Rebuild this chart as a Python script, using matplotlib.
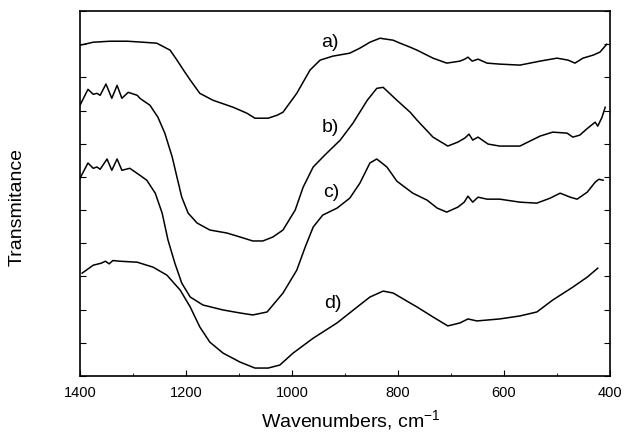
import matplotlib.pyplot as plt
from matplotlib.ticker import MultipleLocator

plt.rcParams['font.family'] = ['Liberation Sans', 'DejaVu Sans']
plt.rcParams['mathtext.default'] = 'regular'

# IR spectra, wavenumber (cm-1) and transmittance (arbitrary units, offset)
wn_a = [1400, 1375, 1343, 1311, 1281, 1255, 1230, 1217, 1206, 1192, 1174, 1149, 1111, 1085,
        1070, 1045, 1028, 1017, 991, 966, 947, 923, 891, 872, 853, 834, 809, 796, 777, 764,
        734, 708, 683, 674, 668, 660, 649, 632, 608, 570, 532, 500, 479, 466, 451, 432, 419, 406]
tr_a = [9.97, 10.06, 10.09, 10.09, 10.06, 10.03, 9.82, 9.52, 9.25, 8.92, 8.52, 8.31, 8.10, 7.92,
        7.77, 7.77, 7.86, 7.95, 8.52, 9.22, 9.52, 9.64, 9.73, 9.88, 10.06, 10.18, 10.12, 10.03, 9.91, 9.82,
        9.58, 9.43, 9.49, 9.55, 9.61, 9.49, 9.55, 9.43, 9.40, 9.37, 9.49, 9.58, 9.52, 9.43, 9.58, 9.67, 9.76, 10.0]

wn_b = [1400, 1385, 1375, 1368, 1362, 1351, 1340, 1330, 1321, 1309, 1292, 1287, 1268, 1253,
        1240, 1226, 1217, 1208, 1196, 1179, 1155, 1123, 1098, 1074, 1055, 1036, 1017, 994, 979,
        960, 938, 909, 885, 858, 840, 828, 802, 777, 764, 734, 706, 687, 674, 666, 659, 649,
        630, 608, 570, 532, 508, 481, 470, 457, 442, 428, 423, 415, 409]
tr_b = [8.16, 8.64, 8.49, 8.52, 8.46, 8.80, 8.37, 8.76, 8.37, 8.55, 8.46, 8.37, 8.16, 7.80,
        7.32, 6.60, 5.99, 5.39, 4.91, 4.61, 4.40, 4.31, 4.19, 4.07, 4.07, 4.19, 4.40, 5.00, 5.69,
        6.30, 6.66, 7.11, 7.62, 8.31, 8.67, 8.70, 8.31, 7.95, 7.71, 7.20, 6.93, 7.05, 7.17, 7.29, 7.11, 7.20,
        6.99, 6.93, 6.93, 7.23, 7.35, 7.32, 7.20, 7.26, 7.47, 7.65, 7.53, 7.80, 8.10]

wn_c = [1400, 1385, 1375, 1368, 1362, 1349, 1340, 1330, 1321, 1306, 1287, 1274, 1258, 1245,
        1234, 1221, 1208, 1192, 1168, 1130, 1098, 1074, 1047, 1017, 991, 975, 960, 942, 915,
        891, 872, 853, 840, 821, 802, 772, 745, 726, 708, 687, 675, 668, 659, 649, 632, 608,
        570, 538, 513, 494, 475, 462, 443, 428, 421, 413]
tr_c = [5.96, 6.42, 6.26, 6.30, 6.23, 6.54, 6.20, 6.54, 6.20, 6.26, 6.05, 5.90, 5.51, 4.91,
        4.10, 3.40, 2.80, 2.38, 2.14, 1.99, 1.90, 1.84, 1.93, 2.50, 3.19, 3.89, 4.49, 4.85, 5.06,
        5.36, 5.81, 6.42, 6.54, 6.30, 5.87, 5.51, 5.30, 5.06, 4.94, 5.09, 5.24, 5.42, 5.24, 5.39, 5.33, 5.33,
        5.24, 5.21, 5.36, 5.51, 5.39, 5.33, 5.54, 5.84, 5.93, 5.90]

wn_d = [1396, 1375, 1360, 1352, 1345, 1338, 1325, 1292, 1262, 1236, 1211, 1192, 1174, 1155,
        1130, 1098, 1070, 1045, 1023, 998, 960, 915, 877, 853, 828, 809, 777, 764, 734, 706,
        683, 668, 651, 608, 570, 538, 508, 470, 443, 423]
tr_d = [3.10, 3.34, 3.40, 3.46, 3.38, 3.48, 3.46, 3.43, 3.28, 3.04, 2.59, 2.08, 1.48, 1.02,
        0.69, 0.42, 0.24, 0.24, 0.33, 0.69, 1.14, 1.60, 2.08, 2.38, 2.56, 2.50, 2.20, 2.08, 1.78, 1.51,
        1.60, 1.72, 1.66, 1.72, 1.81, 1.93, 2.29, 2.68, 2.98, 3.25]

labels = ['a)', 'b)', 'c)', 'd)']
label_wn = [928, 928, 925, 923]
label_tr = [10.06, 7.50, 5.54, 2.20]

fig = plt.figure(figsize=(6.26, 4.34), dpi=100)
ax = fig.add_axes([0.1278, 0.1336, 0.8466, 0.841])

for wn, tr in [(wn_a, tr_a), (wn_b, tr_b), (wn_c, tr_c), (wn_d, tr_d)]:
    ax.plot(wn, tr, color='black', lw=1.1, solid_joinstyle='round')

for lab, x, y in zip(labels, label_wn, label_tr):
    ax.text(x, y, lab, fontsize=14, ha='center', va='center')

ax.set_xlim(1400, 400)
ax.set_ylim(0, 11)
ax.xaxis.set_major_locator(MultipleLocator(200))
ax.xaxis.set_minor_locator(MultipleLocator(100))
ax.yaxis.set_major_locator(MultipleLocator(1))
ax.set_yticklabels([])
ax.tick_params(direction='in', which='both', right=True, labelsize=10.5, pad=7)
ax.tick_params(which='major', length=4)
ax.tick_params(which='minor', length=2.5)
for s in ax.spines.values():
    s.set_linewidth(1.2)

fig.text(351 / 626, 0.016, 'Wavenumbers, cm$^{-1}$', fontsize=14, ha='center', va='baseline')
fig.text(17 / 626, 0.523, 'Transmitance', fontsize=14, rotation=90, ha='center', va='center')

fig.savefig('out.png', dpi=100)
